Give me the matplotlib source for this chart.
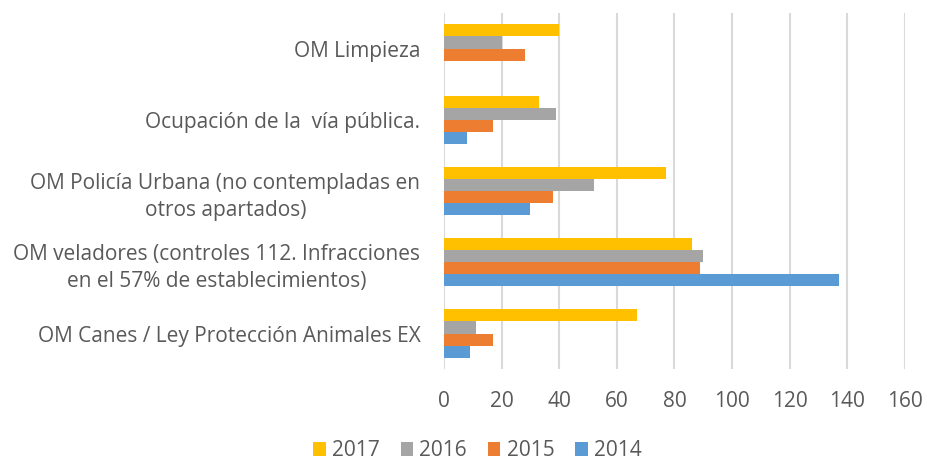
import numpy as np
import matplotlib
matplotlib.use("Agg")
import matplotlib.pyplot as plt

# categories, bottom to top as drawn
categories = [
    "OM Canes / Ley Protección Animales EX",
    "OM veladores (controles 112. Infracciones\nen el 57% de establecimientos)",
    "OM Policía Urbana (no contempladas en\notros apartados)",
    "Ocupación de la  vía pública.",
    "OM Limpieza",
]
years = ["2017", "2016", "2015", "2014"]
v2017 = [67, 86, 77, 33, 40]
v2016 = [11, 90, 52, 39, 20]
v2015 = [17, 89, 38, 17, 28]
v2014 = [9, 137, 30, 8, 0]
colors = ["#FFC000", "#A5A5A5", "#ED7D31", "#5B9BD5"]
xticks = [0, 20, 40, 60, 80, 100, 120, 140, 160]

plt.rcParams['font.family'] = ['Open Sans', 'DejaVu Sans']

fig = plt.figure(figsize=(9.27, 4.62), dpi=100)
ax = fig.add_axes([0.479, 0.201, 0.497, 0.771])

series = [v2017, v2016, v2015, v2014]
y = np.arange(len(categories))
h = 0.17
for i, (vals, c, yr) in enumerate(zip(series, colors, years)):
    offs = (1.5 - i) * h
    ax.barh(y + offs, vals, height=h, color=c, label=yr, zorder=3)

ax.set_xlim(0, 160)
ax.set_ylim(-0.5, 4.5)
ax.set_xticks(xticks)
ax.set_yticks(y)
ax.set_yticklabels(categories, multialignment='center', linespacing=1.4)
ax.grid(axis='x', color='#D9D9D9', linewidth=1.5, zorder=0)
for s in ax.spines.values():
    s.set_visible(False)
ax.tick_params(axis='both', length=0, colors='#595959', labelsize=15)
ax.tick_params(axis='x', pad=16)
ax.tick_params(axis='y', pad=17)

ax.legend(loc='center', bbox_to_anchor=(0.515, 0.024), ncol=4, frameon=False,
          fontsize=15, labelcolor='#595959', handlelength=0.6, handleheight=0.6,
          handletextpad=0.3, columnspacing=1.0, bbox_transform=fig.transFigure)

fig.savefig("out.png", dpi=100)
